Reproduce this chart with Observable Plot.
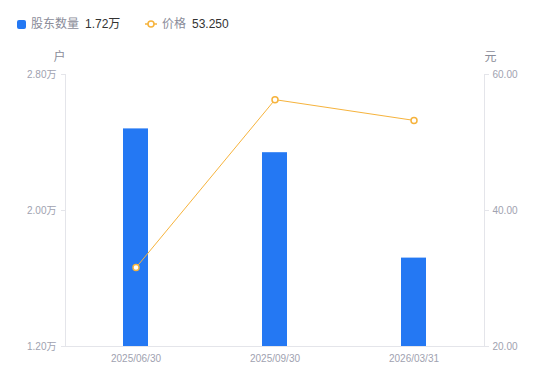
<!DOCTYPE html>
<html><head><meta charset="utf-8">
<script src="https://cdn.jsdelivr.net/npm/d3@7"></script>
<script src="https://cdn.jsdelivr.net/npm/@observablehq/plot@0.6"></script>
<style>
body{margin:0;background:#fff;font-family:"Liberation Sans","Noto Sans CJK SC",sans-serif;}
#legend{height:45px;position:relative;font-size:12px;line-height:12px;}
#legend span{position:absolute;top:18px;white-space:nowrap;}
.sq{position:absolute;left:17px;top:20px;width:9px;height:9px;border-radius:2px;background:#2478f3;}
.lab{color:#8a8c99;}
.val{color:#333;}
svg{display:block;}
</style></head><body>
<div id="legend">
  <div class="sq"></div>
  <span class="lab" style="left:31px">股东数量</span>
  <span class="val" style="left:85px">1.72万</span>
  <svg style="position:absolute;left:144px;top:19px" width="14" height="10"><line x1="1" y1="5" x2="13" y2="5" stroke="#f6b33c" stroke-width="1.5"/><circle cx="7" cy="5" r="3" fill="#fff" stroke="#f6b33c" stroke-width="1.5"/></svg>
  <span class="lab" style="left:162px">价格</span>
  <span class="val" style="left:192px">53.250</span>
</div>
<div id="chart"></div>
<script>
const dates = ["2025/06/30", "2025/09/30", "2026/03/31"];
const holders = [2.48, 2.34, 1.72];      // 万户
const prices = [31.6, 56.3, 53.25];      // 元
const leftTicks = [1.2, 2.0, 2.8];
const rightTicks = [20, 40, 60];

const data = dates.map((d, i) => ({date: d, holders: holders[i], price: prices[i]}));
const yMin = leftTicks[0], yMax = leftTicks[leftTicks.length - 1];
const pMin = rightTicks[0], pMax = rightTicks[rightTicks.length - 1];
const toY = p => yMin + (p - pMin) / (pMax - pMin) * (yMax - yMin);
const fromY = y => pMin + (y - yMin) / (yMax - yMin) * (pMax - pMin);

const axisCol = "#e4e5ea";
const textCol = "#a0a2b0";
const orange = "#f6b33c";

const chart = Plot.plot({
  width: 550, height: 336,
  marginLeft: 65, marginRight: 66, marginTop: 29, marginBottom: 35,
  style: {fontFamily: '"Liberation Sans","Noto Sans CJK SC",sans-serif', fontSize: "10px", background: "transparent"},
  x: {domain: dates, type: "band", paddingInner: 0.82, paddingOuter: 0.41, label: null},
  y: {domain: [yMin, yMax], label: null},
  marks: [
    Plot.barY(data, {x: "date", y1: yMin, y2: "holders", fill: "#2478f3"}),
    Plot.frame({anchor: "left", stroke: axisCol}),
    Plot.frame({anchor: "right", stroke: axisCol}),
    Plot.frame({anchor: "bottom", stroke: axisCol}),
    Plot.axisY({ticks: leftTicks, tickSize: 4, tickFormat: () => "", color: axisCol, label: null}),
    Plot.axisY({ticks: leftTicks, tickSize: 0, tickPadding: 9, tickFormat: d => d.toFixed(2) + "万", color: textCol, label: null}),
    Plot.axisY({anchor: "right", ticks: rightTicks.map(toY), tickSize: 4, tickFormat: () => "", color: axisCol, label: null}),
    Plot.axisY({anchor: "right", ticks: rightTicks.map(toY), tickSize: 0, tickPadding: 8, tickFormat: d => fromY(d).toFixed(2), color: textCol, label: null}),
    Plot.axisX({tickSize: 0, tickPadding: 8, color: textCol, label: null}),
    Plot.line(data, {x: "date", y: d => toY(d.price), stroke: orange, strokeWidth: 1}),
    Plot.dot(data, {x: "date", y: d => toY(d.price), r: 3, stroke: orange, strokeWidth: 1.5, fill: "#fff"}),
    Plot.text(["户"], {frameAnchor: "top-left", textAnchor: "middle", lineAnchor: "middle", dx: -6, dy: -17, fill: "#8a8c99", fontSize: 12}),
    Plot.text(["元"], {frameAnchor: "top-right", textAnchor: "middle", lineAnchor: "middle", dx: 6, dy: -17, fill: "#8a8c99", fontSize: 12})
  ]
});
document.getElementById("chart").appendChild(chart);
</script>
</body></html>
